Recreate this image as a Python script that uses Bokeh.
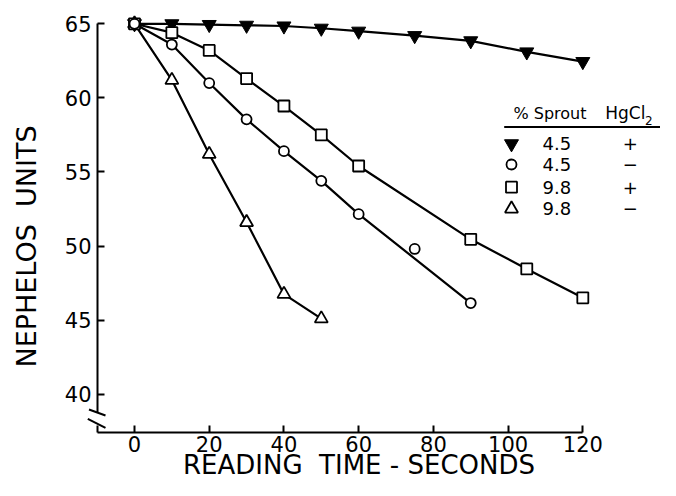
import numpy as np
from bokeh.plotting import figure
from bokeh.models import Label, FixedTicker, Range1d
from bokeh.embed import file_html
from bokeh.resources import INLINE

# ---------------- data ----------------
t_filled_tri = [0, 10, 20, 30, 40, 50, 60, 75, 90, 105, 120]
y_filled_tri = [65.0, 65.0, 64.95, 64.9, 64.85, 64.7, 64.5, 64.2, 63.85, 63.1, 62.45]

t_circle = [0, 10, 20, 30, 40, 50, 60, 75, 90]
y_circle = [65.0, 63.6, 61.0, 58.55, 56.4, 54.4, 52.15, 49.8, 46.15]
circle_off_line = [75]          # point plotted but not joined by the line

t_square = [0, 10, 20, 30, 40, 50, 60, 90, 105, 120]
y_square = [65.0, 64.4, 63.2, 61.3, 59.45, 57.5, 55.4, 50.45, 48.45, 46.5]

t_open_tri = [0, 10, 20, 30, 40, 50]
y_open_tri = [65.0, 61.2, 56.2, 51.6, 46.75, 45.1]

x_ticks = [0, 20, 40, 60, 80, 100, 120]
y_ticks = [40, 45, 50, 55, 60, 65]

legend_sprout = ["4.5", "4.5", "9.8", "9.8"]
legend_hgcl2 = ["+", "\u2212", "+", "\u2212"]

# ---------------- layout constants (canvas pixels) ----------------
FONT = "DejaVu Sans"
W, H = 660, 480
CX_0, SX = 134.0, 3.736            # canvas x of t=0, px per second
CY_AXIS, CY_TOP = 432.0, 23.3      # canvas y of x-axis line and of the 65 tick
X_AXIS_VAL = -9.90                 # where the y axis sits
Y_AXIS_VAL = 37.41                 # where the x axis sits
SY = (CY_AXIS - CY_TOP) / (max(y_ticks) - Y_AXIS_VAL)
X_START, X_END = -CX_0 / SX, (W - CX_0) / SX
Y_END = max(y_ticks) + CY_TOP / SY
Y_START = Y_END - H / SY


def dx(cx):
    return X_START + cx / SX


def dy(cy):
    return Y_END - cy / SY


p = figure(frame_width=W, frame_height=H, min_border=0,
           x_range=Range1d(X_START, X_END), y_range=Range1d(Y_START, Y_END),
           output_backend="svg", toolbar_location=None)
p.outline_line_color = None
p.grid.visible = False
p.background_fill_color = "white"
p.border_fill_color = "white"

for ax in (p.xaxis[0], p.yaxis[0]):
    ax.axis_line_width = 2
    ax.axis_line_color = "black"
    ax.major_tick_line_width = 2
    ax.major_tick_line_color = "black"
    ax.major_tick_in = 7
    ax.major_tick_out = 0
    ax.minor_tick_in = 0
    ax.minor_tick_out = 0
    ax.major_label_text_font = FONT
    ax.major_label_text_font_size = "21px"
    ax.major_label_text_color = "black"

p.xaxis.fixed_location = Y_AXIS_VAL
p.yaxis.fixed_location = X_AXIS_VAL
p.xaxis.ticker = FixedTicker(ticks=x_ticks)
p.yaxis.ticker = FixedTicker(ticks=y_ticks)
p.xaxis.bounds = (X_AXIS_VAL, max(x_ticks))
p.yaxis.bounds = (dy(CY_AXIS - 20.3), max(y_ticks))
p.xaxis.major_label_standoff = 3
p.yaxis.major_label_standoff = 6

# axis break marks and short stub below the break (canvas px offsets from the corner)
brk = [(88.5, -23, 105, -17), (87.3, -13.7, 105, -4.7), (97, -7, 97, 0)]
p.segment(x0=[dx(a) for a, b, c, d in brk], y0=[dy(CY_AXIS + b) for a, b, c, d in brk],
          x1=[dx(c) for a, b, c, d in brk], y1=[dy(CY_AXIS + d) for a, b, c, d in brk],
          line_width=2, color="black")

# ---------------- series ----------------
LW = 2.2
MLW = 1.8

p.line(t_filled_tri, y_filled_tri, line_width=LW, color="black")
t_cl = [t for t in t_circle if t not in circle_off_line]
y_cl = [y for t, y in zip(t_circle, y_circle) if t not in circle_off_line]
p.line(t_cl, y_cl, line_width=LW, color="black")
p.line(t_square, y_square, line_width=LW, color="black")
p.line(t_open_tri, y_open_tri, line_width=LW, color="black")

p.scatter(t_filled_tri, y_filled_tri, marker="inverted_triangle", size=14,
          fill_color="black", line_color="black", line_width=1)
p.scatter(t_open_tri, y_open_tri, marker="triangle", size=13,
          fill_color="white", line_color="black", line_width=MLW)
p.scatter(t_square, y_square, marker="square", size=11,
          fill_color="white", line_color="black", line_width=MLW)
p.scatter(t_circle, y_circle, marker="circle", size=10,
          fill_color="white", line_color="black", line_width=MLW)

# ---------------- legend table ----------------
LX = -17   # legend shifted left to fit the canvas
leg_rows_cy = [143.3, 164.0, 186.7, 208.3]
leg_markers = [("inverted_triangle", 14, "black"), ("circle", 10, "white"),
               ("square", 11, "white"), ("triangle", 13, "white")]


def lab(cx, cy, text, size, align="left", angle=0.0):
    p.add_layout(Label(x=dx(cx), y=dy(cy), text=text, text_font=FONT, text_color="black",
                       text_font_size=size, text_align=align, text_baseline="middle",
                       angle=angle))


lab(530 + LX, 112.5, "% Sprout", "16px")
lab(621.7 + LX, 112.5, "HgCl", "17px")
lab(661.5 + LX, 120.0, "2", "12px")
p.segment(x0=[dx(520.7 + LX)], y0=[dy(126.5)], x1=[dx(W)], y1=[dy(126.5)],
          line_width=2, color="black")

for cy, (mk, sz, fc), num, sign in zip(leg_rows_cy, leg_markers, legend_sprout, legend_hgcl2):
    p.scatter([dx(528 + LX)], [dy(cy)], marker=mk, size=sz, fill_color=fc,
              line_color="black", line_width=MLW if fc == "white" else 1)
    lab(573.3 + LX, cy, num, "18px", align="center")
    lab(646.7 + LX, cy, sign, "18px", align="center")

# ---------------- axis titles ----------------
lab(358.5, 464.5, "READING\u00a0\u00a0TIME - SECONDS", "26px", align="center")
lab(25.5, 246, "NEPHELOS\u00a0\u00a0UNITS", "27px", align="center", angle=np.pi / 2)

open("out.html", "w").write(file_html(p, INLINE))
